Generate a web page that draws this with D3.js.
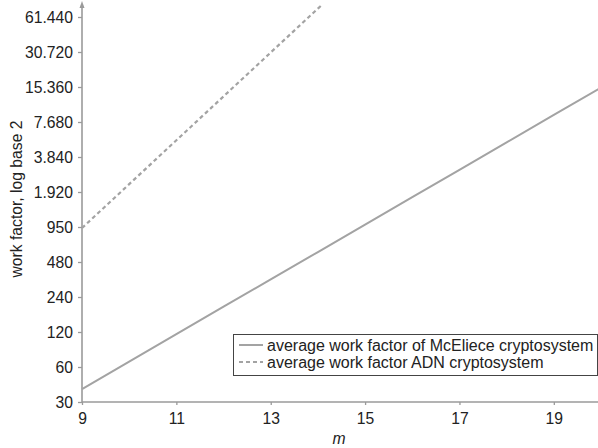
<!DOCTYPE html>
<html><head><meta charset="utf-8">
<script src="https://cdn.jsdelivr.net/npm/d3@7"></script>
<style>body{margin:0;background:#fff}svg{display:block}text{font-family:"Liberation Sans",Arial,sans-serif}</style>
</head><body><svg id="c" width="598" height="448"></svg>
<script>
const mValues = [9,10,11,12,13,14,15,16,17,18,19,20];
const mcElieceValues = [38.8,66.8,115,198,340,585,1007,1733,2982,5130,8830,15190];
const adnM = [9,10,11,12,13,14,14.06];
const adnValues = [940,2242,5348,12755,30430,72580,76400];
const yTickValues = [30,60,120,240,480,960,1920,3840,7680,15360,30720,61440];
const yTickLabels = ["30","60","120","240","480","950","1.920","3.840","7.680","15.360","30.720","61.440"];
const xTickValues = [9,11,13,15,17,19];
const seriesNames = ["average work factor of McEliece cryptosystem","average work factor ADN cryptosystem"];

const svg = d3.select("#c");
const x = d3.scaleLinear().domain([9,20]).range([82,601]);
const y = d3.scaleLog().base(2).domain([30,61440]).range([402,17]);
const gray = "#a3a3a3", axisCol = "#9a9a9a";

// axes
const xa = svg.append("g").attr("transform","translate(0,402)")
  .call(d3.axisBottom(x).tickValues(xTickValues).tickSize(3).tickPadding(8).tickFormat(d3.format("d")));
const ya = svg.append("g").attr("transform","translate(82,0)")
  .call(d3.axisLeft(y).tickValues(yTickValues).tickSize(4).tickPadding(5).tickFormat((d,i)=>yTickLabels[i]));
[xa,ya].forEach(a=>{
  a.select(".domain").remove();
  a.selectAll(".tick line").attr("stroke",axisCol).attr("stroke-width",1.3);
  a.selectAll(".tick text").attr("fill","#222").style("font-size","15.7px");
});
svg.append("line").attr("x1",82).attr("x2",598).attr("y1",402).attr("y2",402).attr("stroke",axisCol).attr("stroke-width",1.6);
svg.append("line").attr("x1",82).attr("x2",82).attr("y1",402).attr("y2",4).attr("stroke",axisCol).attr("stroke-width",1.6);
svg.append("path").attr("d","M82,1 L79.5,8 L84.5,8 Z").attr("fill",axisCol);

// lines
const line = d3.line().x(d=>x(d[0])).y(d=>y(d[1]));
svg.append("path").datum(mValues.map((m,i)=>[m,mcElieceValues[i]]))
  .attr("d",line).attr("fill","none").attr("stroke",gray).attr("stroke-width",2);
svg.append("path").datum(adnM.map((m,i)=>[m,adnValues[i]]))
  .attr("d",line).attr("fill","none").attr("stroke",gray).attr("stroke-width",2.2).attr("stroke-dasharray","4,3");

// axis labels
svg.append("text").attr("x",339).attr("y",444).attr("text-anchor","middle")
  .style("font-size","15.7px").style("font-style","italic").attr("fill","#222").text("m");
svg.append("text").attr("transform","translate(22,199) rotate(-90)").attr("text-anchor","middle")
  .style("font-size","15.7px").attr("fill","#222").text("work factor, log base 2");

// legend
const lg = svg.append("g");
lg.append("rect").attr("x",233.5).attr("y",334.5).attr("width",364).attr("height",41)
  .attr("fill","#fff").attr("stroke","#444").attr("stroke-width",1);
seriesNames.forEach((n,i)=>{
  const yy = 345 + i*17;
  lg.append("line").attr("x1",239).attr("x2",263).attr("y1",yy).attr("y2",yy)
    .attr("stroke",gray).attr("stroke-width",2).attr("stroke-dasharray",i?"4,3":null);
  lg.append("text").attr("x",267).attr("y",yy+5.5).style("font-size","16px").attr("fill","#222").text(n);
});
</script></body></html>
